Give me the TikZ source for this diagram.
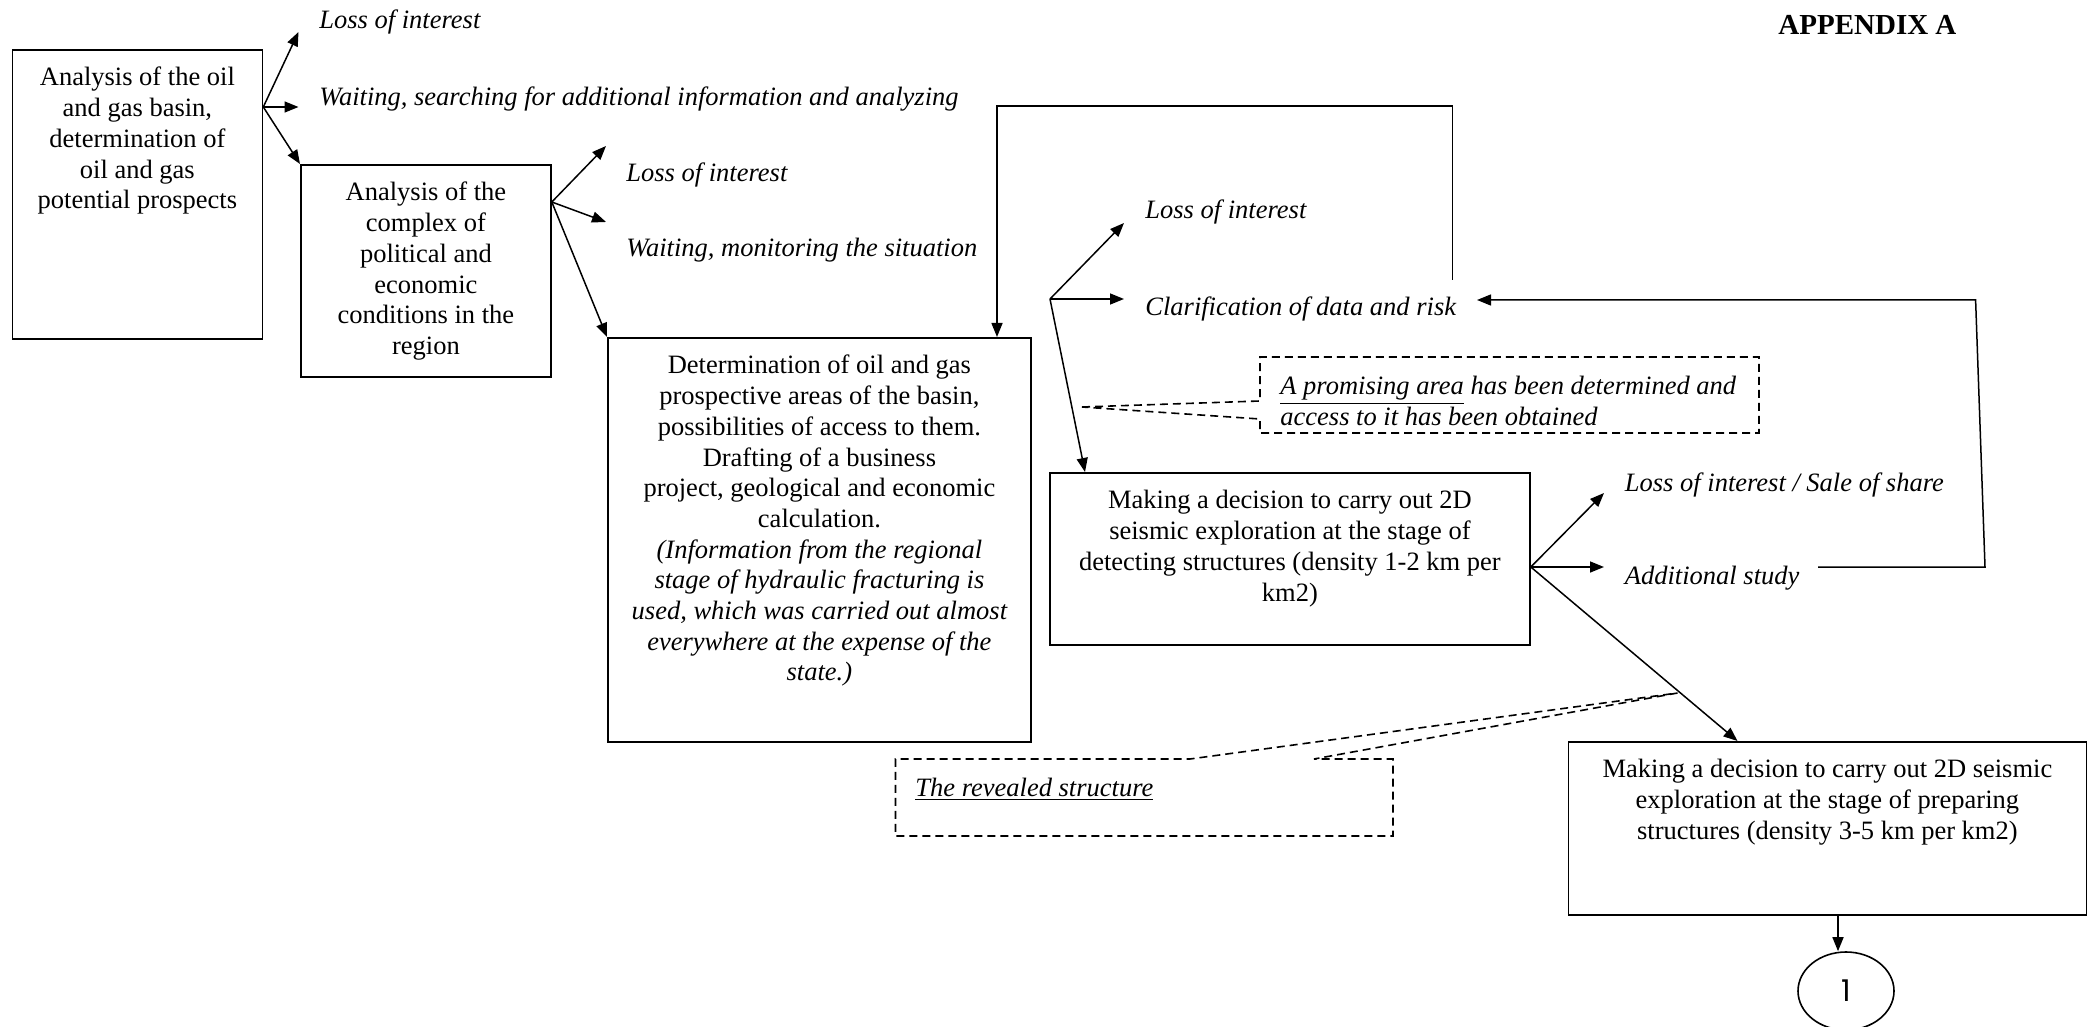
\documentclass[tikz,border=0pt]{standalone}
\usepackage{fontspec}
\setmainfont{Liberation Serif}
\newfontfamily\gothicfont{Poppins}
\usetikzlibrary{arrows.meta,shapes.geometric}

% text of a framed step, set from the top of its frame
\newcommand{\boxtext}[3]{\parbox[c][#2][t]{#1}{\vspace*{7.3pt}\centering\strut #3\par}}

\begin{document}
\begin{tikzpicture}[
  x=0.5pt, y=-0.5pt,
  font=\fontsize{13.25}{15.35}\selectfont,
  box/.style={draw, line width=0.9pt, inner sep=0pt, anchor=north west},
  lbl/.style={font=\fontsize{13.25}{15.35}\selectfont\itshape, anchor=base west, inner sep=0pt},
  arr/.style={-{Triangle[length=7pt,width=5.5pt]}, line width=0.75pt},
  note/.style={dash pattern=on 4pt off 2.5pt, line width=0.8pt}
]
  \useasboundingbox (0,0) rectangle (2094,1027);

  \node[font=\fontsize{14.5}{16}\selectfont\bfseries, anchor=base west, inner sep=0pt] (app) at (1778,35) {APPENDIX A};

  % steps
  \node[box] (A) at (11.5,49) {\boxtext{125pt}{144.5pt}{Analysis of the oil\\ and gas basin,\\ determination of\\ oil and gas\\ potential prospects}};
  \node[box] (B) at (300,164) {\boxtext{125pt}{106pt}{Analysis of the\\ complex of\\ political and\\ economic\\ conditions in the\\ region}};
  \node[box] (C) at (607,337) {\boxtext{211.5pt}{202pt}{Determination of oil and gas\\ prospective areas of the basin,\\ possibilities of access to them.\\ Drafting of a business\\ project, geological and economic\\ calculation.\\ {\itshape (Information from the regional\\ stage of hydraulic fracturing is\\ used, which was carried out almost\\ everywhere at the expense of the\\ state.)}}};
  \node[box] (D) at (1049,472) {\boxtext{240pt}{86pt}{Making a decision to carry out 2D\\ seismic exploration at the stage of\\ detecting structures (density 1-2 km per\\ km2)}};
  \node[box] (E) at (1567.5,741) {\boxtext{259pt}{86.5pt}{Making a decision to carry out 2D seismic\\ exploration at the stage of preparing\\ structures (density 3-5 km per km2)}};
  \node[ellipse, draw, line width=0.8pt, minimum width=48pt, minimum height=39pt, inner sep=0pt,
        font=\gothicfont\fontsize{15}{15}\selectfont] (one) at (1846,991) {1};

  % outcomes
  \node[lbl] (lossA) at (319,29) {Loss of interest};
  \node[lbl] (waitA) at (319,106) {Waiting, searching for additional information and analyzing};
  \node[lbl] (lossB) at (626,182) {Loss of interest};
  \node[lbl] (waitB) at (626,257) {Waiting, monitoring the situation};
  \node[lbl] (lossC) at (1145,219) {Loss of interest};
  \node[lbl] (clar) at (1145,315) {Clarification of data and risk};
  \node[lbl] (lossD) at (1624.5,491) {Loss of interest / Sale of share};
  \node[lbl] (addl) at (1624.5,584) {Additional study};

  \coordinate (tLossA) at (298.5,32);
  \coordinate (tWaitA) at (298.5,107);
  \coordinate (tLossB) at (606,146);
  \coordinate (tWaitB) at (606,222);
  \coordinate (fork) at (1050,299);
  \coordinate (tLossC) at (1124,223);
  \coordinate (tClar) at (1124,299);
  \coordinate (tLossD) at (1604,493);
  \coordinate (tAddl) at (1604,567);
  \coordinate (oneTop) at ([xshift=-4pt]one.north);

  \draw[arr] ([yshift=-29pt]A.north east) -- (tLossA);
  \draw[arr] ([yshift=-29pt]A.north east) -- (tWaitA);
  \draw[arr] ([yshift=-29pt]A.north east) -- (B.north west);

  \draw[arr] ([yshift=-19pt]B.north east) -- (tLossB);
  \draw[arr] ([yshift=-19pt]B.north east) -- (tWaitB);
  \draw[arr] ([yshift=-19pt]B.north east) -- (C.north west);

  \draw[arr] (fork) -- (tLossC);
  \draw[arr] (fork) -- (tClar);
  \draw[arr] (fork) -- ([xshift=18pt]D.north west);

  \draw[arr] ([yshift=-47.5pt]D.north east) -- (tLossD);
  \draw[arr] ([yshift=-47.5pt]D.north east) -- (tAddl);
  \draw[arr] ([yshift=-47.5pt]D.north east) -- ([xshift=85pt]E.north west);

  \draw[arr] (oneTop |- E.south) -- (oneTop);

  % back to the prospective areas
  \coordinate (loopS) at (1452.5,280);
  \coordinate (loopTL) at (997,106);
  \draw[arr] (loopS) |- (loopTL) -- (loopTL |- C.north);

  % additional study returns to clarification
  \coordinate (retS) at (1818,567);
  \coordinate (retR) at (1985,567);
  \coordinate (retT) at (1975.6,300);
  \coordinate (tRet) at (1477,300);
  \draw[arr] (retS) -- (retR) -- (retT) -- (tRet);

  % callouts
  \coordinate (ptrA) at (1082,407);
  \draw[note] (ptrA) -- (1260,401) -- (1260,357) -- (1759,357) -- (1759,433) -- (1260,433) -- (1260,419) -- cycle;
  \node[lbl, anchor=north west, align=left] (noteA) at (1280,376)
    {\underline{A promising area} has been determined and\\ access to it has been obtained};

  \coordinate (ptrB) at (1677.5,693);
  \draw[note] (ptrB) -- (1314,759) -- (1393,759) -- (1393,836) -- (895.5,836) -- (895.5,759) -- (1190,759) -- cycle;
  \node[lbl] (noteB) at (915,796) {\underline{The revealed structure}};
\end{tikzpicture}
\end{document}
